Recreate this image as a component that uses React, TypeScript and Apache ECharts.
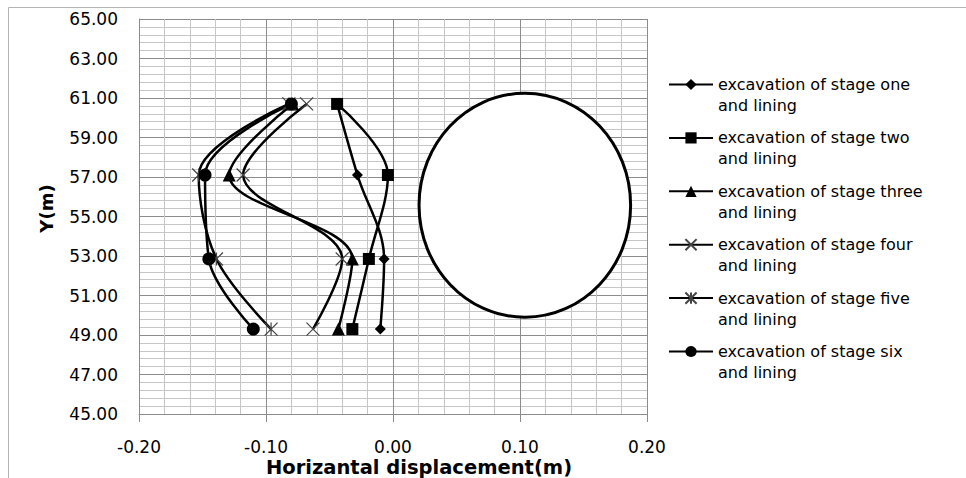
import React, { useEffect, useRef } from 'react';
import * as echarts from 'echarts';

// Y levels (m) of the monitoring points, top to bottom
const yLevels = [60.7, 57.1, 52.85, 49.3];

// Horizontal displacement (m) per stage at each Y level
const stageOne = [-0.044, -0.028, -0.007, -0.010];
const stageTwo = [-0.044, -0.004, -0.019, -0.032];
const stageThree = [-0.079, -0.129, -0.032, -0.043];
const stageFour = [-0.068, -0.118, -0.040, -0.063];
const stageFive = [-0.082, -0.153, -0.139, -0.096];
const stageSix = [-0.080, -0.148, -0.145, -0.110];

const seriesNames = [
  'excavation of stage one\nand lining',
  'excavation of stage two\nand lining',
  'excavation of stage three\nand lining',
  'excavation of stage four\nand lining',
  'excavation of stage five\nand lining',
  'excavation of stage six\nand lining',
];

// Tunnel outline: centre x, centre y, radius x, radius y (data units)
const tunnel = [0.1038, 55.57, 0.0833, 5.67];

const xTitle = 'Horizantal displacement(m)';
const yTitle = 'Y(m)';

const FONT = 'DejaVu Sans';

const crossPath = 'path://M0,0L10,10M10,0L0,10';
const asteriskPath = 'path://M0,0L10,10M10,0L0,10M5,0L5,10';

const stageValues = [stageOne, stageTwo, stageThree, stageFour, stageFive, stageSix];
const stageSymbols = ['diamond', 'rect', 'triangle', crossPath, asteriskPath, 'circle'];
const stageSymbolSizes = [11, 12, 13, 13, 13, 13];

export default function App() {
  const ref = useRef<HTMLDivElement>(null);

  useEffect(() => {
    if (!ref.current) return;
    const chart = echarts.init(ref.current, undefined, { renderer: 'svg' });

    const lineSeries = stageValues.map((vals, i) => {
      const isStroke = i === 3 || i === 4;
      return {
        type: 'line',
        name: seriesNames[i],
        data: vals.map((v, j) => [v, yLevels[j]]),
        smooth: 0.35,
        symbol: stageSymbols[i],
        symbolSize: stageSymbolSizes[i],
        showSymbol: true,
        z: 3,
        lineStyle: { color: '#000', width: 2.5 },
        itemStyle: isStroke
          ? { color: '#000', borderColor: '#444', borderWidth: 1.2 }
          : { color: '#000', borderColor: '#000', borderWidth: 0 },
      };
    });

    const axisFont = { fontFamily: FONT, fontSize: 17, color: '#000' };
    const titleFont = { fontFamily: FONT, fontWeight: 'bold', color: '#000' };

    chart.setOption({
      animation: false,
      backgroundColor: '#fff',
      grid: {
        left: 139,
        right: 319,
        top: 19,
        bottom: 64,
        containLabel: false,
        outerBoundsMode: 'none',
      },
      graphic: [
        {
          type: 'rect',
          shape: { x: 8.5, y: 7.5, width: 1000, height: 500 },
          style: { fill: 'none', stroke: '#b4b4b4', lineWidth: 1 },
          silent: true,
          z: -1,
        },
      ],
      legend: {
        orient: 'vertical',
        left: 668,
        top: 53,
        padding: 0,
        itemWidth: 44,
        itemHeight: 14,
        itemGap: -9.6,
        data: seriesNames,
        formatter: (name: string) => ' \n' + name,
        textStyle: {
          fontFamily: FONT,
          fontSize: 16,
          color: '#000',
          lineHeight: 21,
        },
      },
      xAxis: {
        type: 'value',
        min: -0.2,
        max: 0.2,
        interval: 0.1,
        name: xTitle,
        nameLocation: 'middle',
        nameGap: 43,
        nameMoveOverlap: false,
        nameTextStyle: { ...titleFont, fontSize: 19.5, lineHeight: 20, padding: [0, 0, 0, 52] },
        axisLine: { show: true, onZero: false, lineStyle: { color: '#8c8c8c', width: 1 } },
        axisTick: { show: true, length: 8, lineStyle: { color: '#8c8c8c' } },
        axisLabel: { ...axisFont, margin: 24, formatter: (v: number) => v.toFixed(2) },
        splitLine: { show: true, lineStyle: { color: '#8c8c8c', width: 1 } },
        minorTick: { show: false, splitNumber: 5 },
        minorSplitLine: { show: true, lineStyle: { color: '#c6c6c6', width: 1 } },
      },
      yAxis: {
        type: 'value',
        min: 45,
        max: 65,
        interval: 2,
        name: yTitle,
        nameLocation: 'middle',
        nameGap: 84,
        nameMoveOverlap: false,
        nameTextStyle: { ...titleFont, fontSize: 18, padding: [0, 0, 0, 16] },
        axisLine: { show: true, onZero: false, lineStyle: { color: '#8c8c8c', width: 1 } },
        axisTick: { show: false },
        axisLabel: { ...axisFont, margin: 21, formatter: (v: number) => v.toFixed(2) },
        splitLine: { show: true, lineStyle: { color: '#8c8c8c', width: 1 } },
        minorTick: { show: false, splitNumber: 5 },
        minorSplitLine: { show: true, lineStyle: { color: '#c6c6c6', width: 1 } },
      },
      series: [
        {
          type: 'custom',
          name: 'tunnel',
          silent: true,
          z: 2,
          data: [tunnel],
          encode: { x: 0, y: 1 },
          renderItem: (_params: any, api: any) => {
            const c = api.coord([api.value(0), api.value(1)]);
            const s = api.size([api.value(2), api.value(3)]);
            return {
              type: 'ellipse',
              shape: { cx: c[0], cy: c[1], rx: s[0], ry: s[1] },
              style: { fill: '#fff', stroke: '#000', lineWidth: 3 },
            };
          },
        },
        ...lineSeries,
      ],
    });

    return () => chart.dispose();
  }, []);

  return (
    <div
      ref={ref}
      style={{ position: 'absolute', left: 0, top: 0, width: 966, height: 478, background: '#fff' }}
    />
  );
}
